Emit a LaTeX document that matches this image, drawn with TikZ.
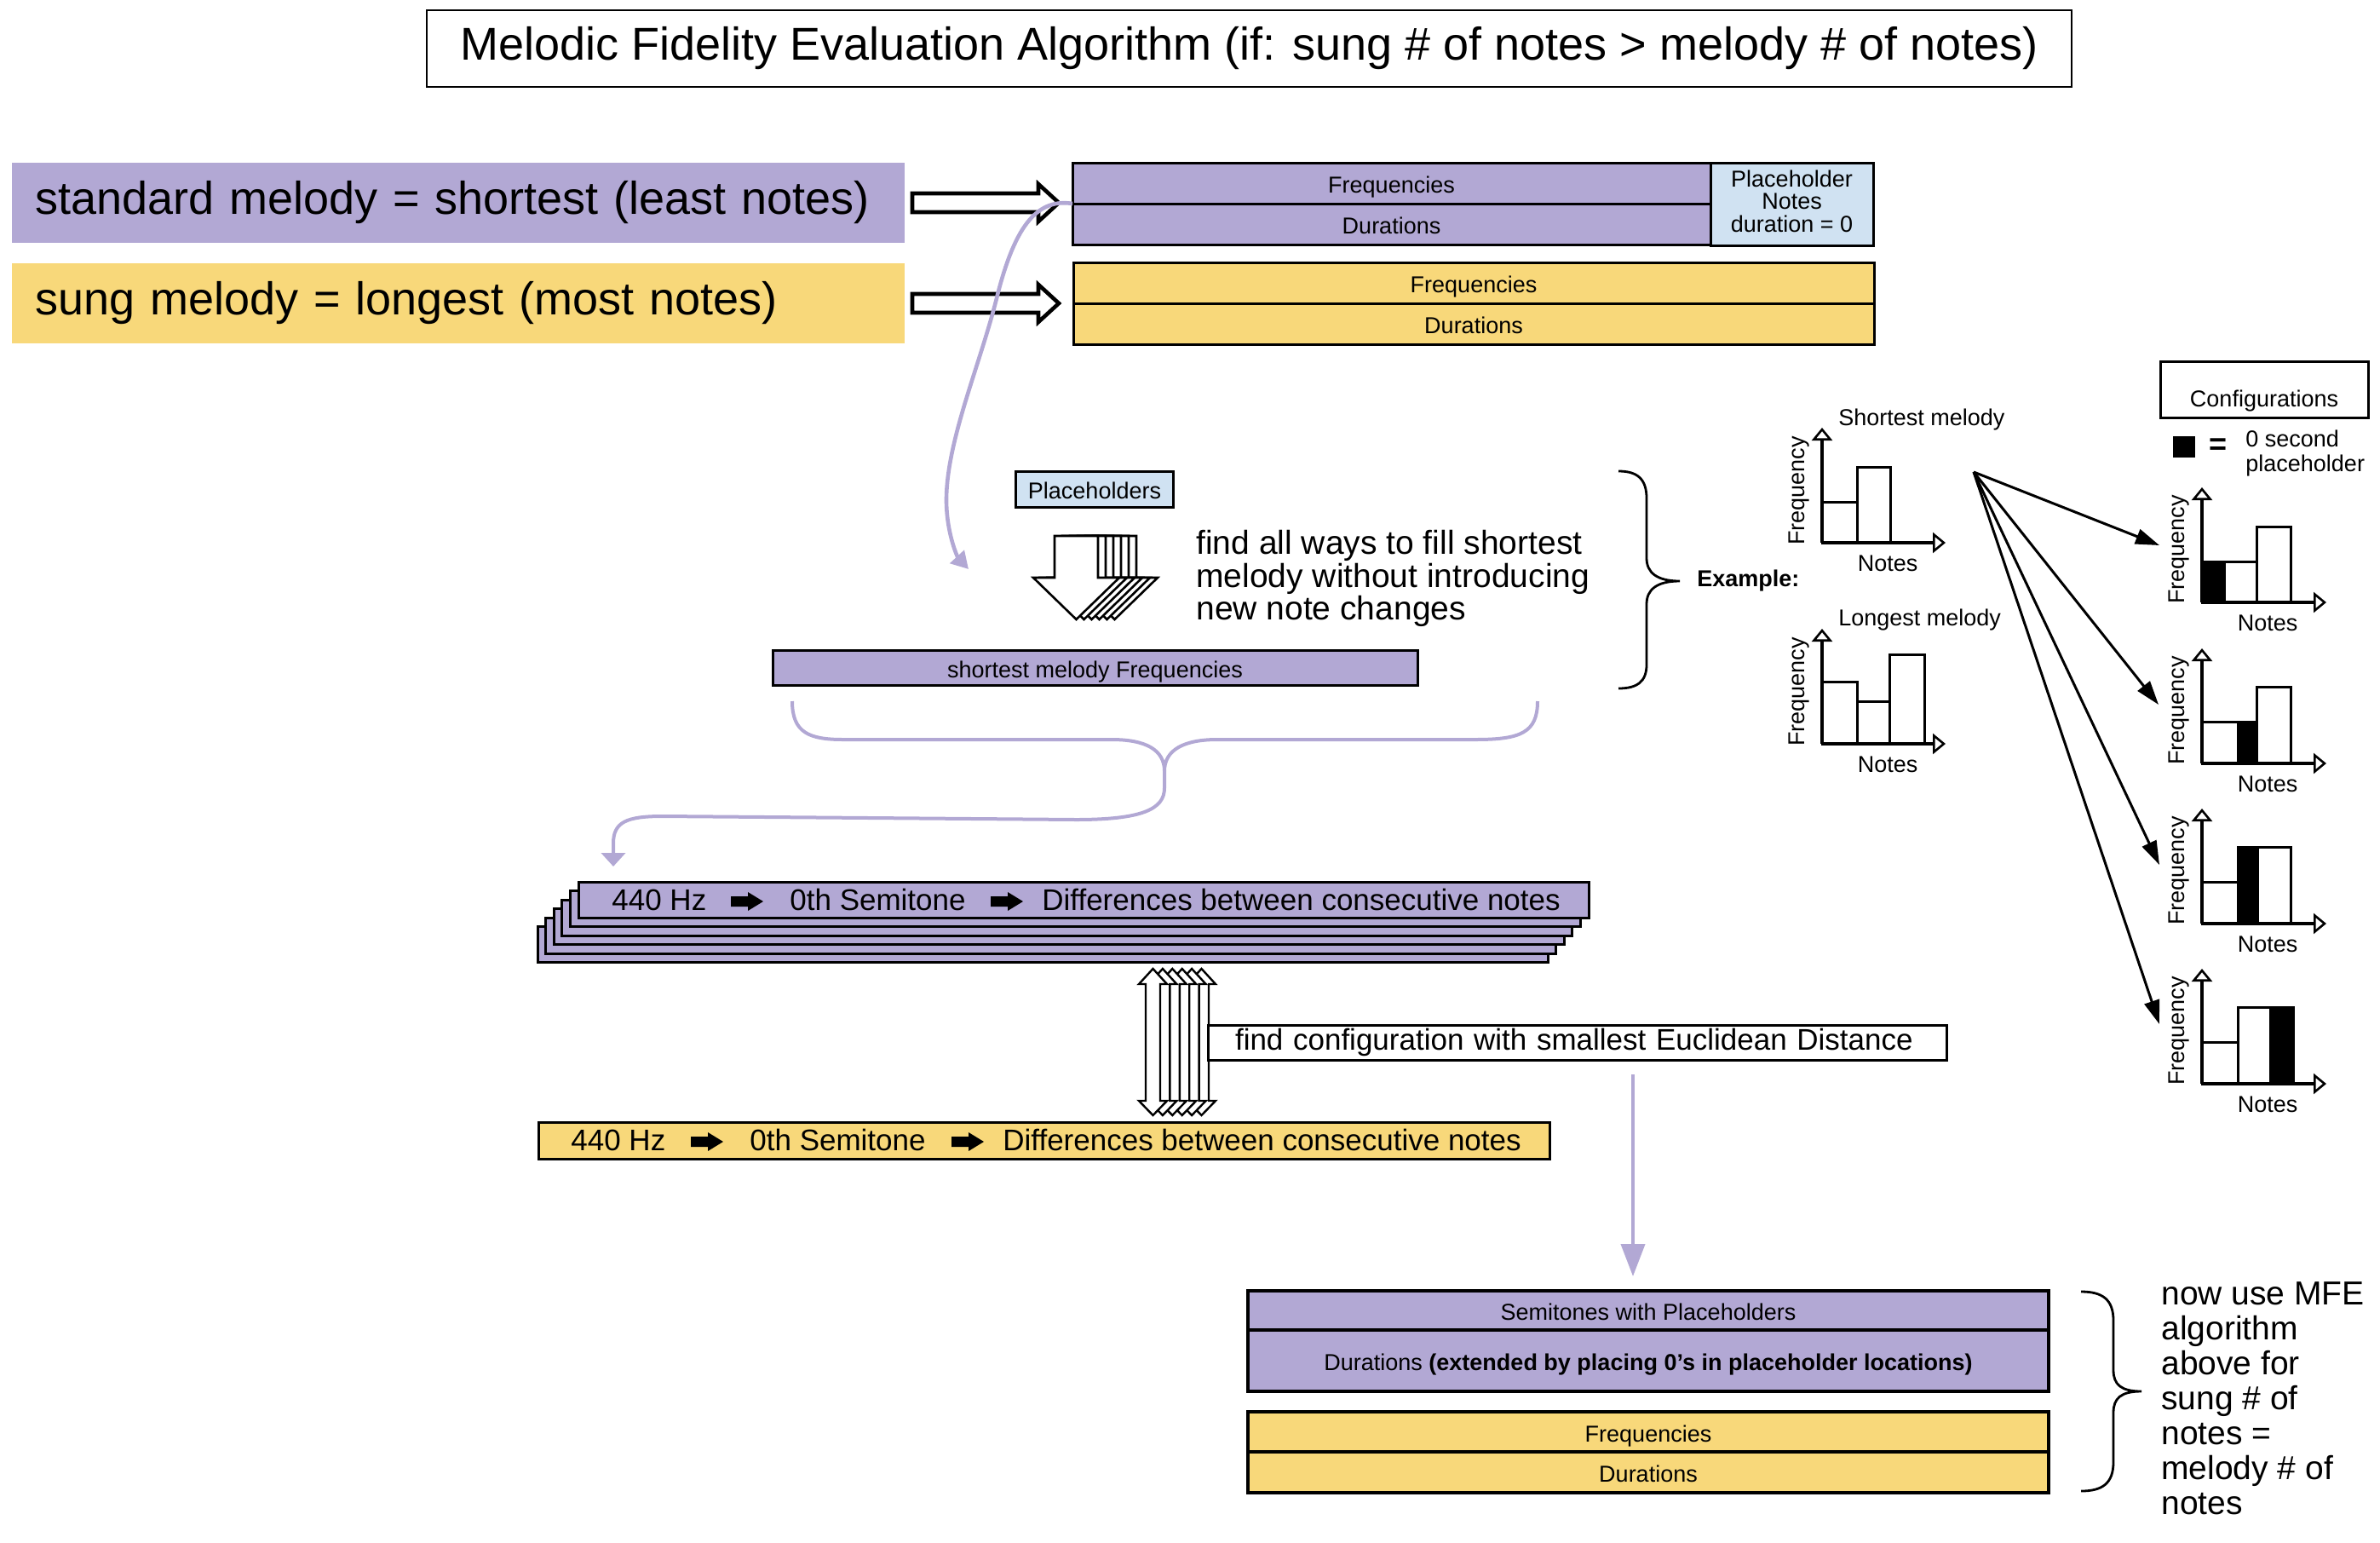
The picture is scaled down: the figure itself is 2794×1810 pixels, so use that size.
\documentclass[tikz,border=0pt]{standalone}
\usepackage{fontspec}
\setmainfont{Liberation Sans}
\usetikzlibrary{arrows.meta,calc}
\definecolor{lav}{RGB}{178,168,212}
\definecolor{ylw}{RGB}{248,216,122}
\definecolor{lblue}{RGB}{208,226,242}
\newcommand\mfeT{\fontsize{27}{32}\selectfont}
\newcommand\mfeS{\fontsize{13.5}{13.3}\selectfont}
\newcommand\mfeM{\fontsize{17.5}{20}\selectfont}
\newcommand\mfeL{\fontsize{19.5}{19.25}\selectfont}
\newcommand\mfeLL{\fontsize{19.5}{20.5}\selectfont}
\begin{document}
\begin{tikzpicture}[x=0.5pt,y=-0.5pt,
  tbl/.style={draw=black, line width=1.5pt, inner sep=0pt, outer sep=0pt, font=\mfeS, align=center},
  tblt/.style={tbl, text height=11.5pt, text depth=0pt},
  lbl/.style={inner sep=0pt, inner xsep=13.5pt, minimum height=47pt, text width=497pt, align=left, font=\mfeT},
  harrow/.style={draw=black, fill=white, line width=2.3pt, line join=miter},
  warrow/.style={draw=black, fill=white, line width=1.3pt, line join=miter},
  pline/.style={draw=lav, line width=2.3pt},
  bar/.style={draw=black, fill=white, line width=1.5pt},
  blk/.style={draw=black, fill=black, line width=1.5pt},
  axis/.style={draw=black, line width=1.8pt, -{Triangle[open,width=12pt,length=7.5pt,line width=1.3pt]}},
  freqlbl/.style={rotate=90, font=\mfeS, inner sep=0pt},
  noteslbl/.style={font=\mfeS, inner sep=0pt},
  mtxt/.style={font=\mfeM, anchor=base west, inner sep=0pt},
  brc/.style={draw=black, line width=1.4pt},
  fanarrow/.style={draw=black, line width=1.5pt, -{Triangle[length=14pt,width=9pt]}}
]
\useasboundingbox (0,0) rectangle (2794,1810);

% title
\node[tbl, line width=1.4pt, minimum width=965.5pt, minimum height=45pt, font=\mfeT] (title) at (1466.5,57)
  {Melodic Fidelity Evaluation Algorithm (if: sung \# of notes > melody \# of notes)};

% left labels
\node[lbl, fill=lav] (stdmel) at (538,238) {standard melody = shortest (least notes)};
\node[lbl, fill=ylw] (sungmel) at (538,356) {sung melody = longest (most notes)};

% hollow block arrows
\draw[harrow] (1071,238) ++(0,-11) -- ++(148,0) -- ++(0,-11) -- ++(24,22) -- ++(-24,22) -- ++(0,-11) -- ++(-148,0) -- cycle;
\draw[harrow] (1071,356) ++(0,-11) -- ++(148,0) -- ++(0,-11) -- ++(24,22) -- ++(-24,22) -- ++(0,-11) -- ++(-148,0) -- cycle;

% top tables
\node[tblt, fill=lav, minimum width=374.5pt, minimum height=24pt] (pfreq) at (1633.5,215) {Frequencies};
\node[tblt, fill=lav, minimum width=374.5pt, minimum height=24pt] (pdur) at (1633.5,263) {Durations};
\node[tbl, fill=lblue, minimum width=95.5pt, minimum height=48.5pt] (plh) at (2103.5,239.5) {};
\node[font=\mfeS, align=center, inner sep=0pt] (plhtxt) at (2103.5,236) {Placeholder\\Notes\\duration = 0};
\node[tblt, fill=ylw, minimum width=470pt, minimum height=24pt] (yfreq) at (1730,332) {Frequencies};
\node[tblt, fill=ylw, minimum width=470pt, minimum height=24pt] (ydur) at (1730,380) {Durations};

% purple curved arrow from top table
\coordinate (pcEnd) at (1137,668);
\draw[pline, -{Triangle[width=11pt,length=10pt]}] (pfreq.south west) .. controls (1215,232) and (1190,270) .. (1170,350)
  .. controls (1150,430) and (1110,520) .. (1111,590) .. controls (1112,630) and (1125,655) .. (pcEnd);

% placeholders box
\node[tblt, fill=lblue, minimum width=92.5pt, minimum height=21pt] (plhs) at (1285,574) {Placeholders};

% stacked down arrows
\foreach \k in {5,4,3,2,1,0} {
  \begin{scope}[xshift={\k*4.5pt}]
    \draw[warrow] (1238,629) -- (1289,629) -- (1289,678) -- (1314,678) -- (1263.5,727) -- (1213,678) -- (1238,678) -- cycle;
  \end{scope}
}

\node[font=\mfeL, align=left, anchor=west, inner sep=0pt] (fillways) at (1404,679)
  {find all ways to fill shortest\\melody without introducing\\new note changes};

\node[tblt, fill=lav, minimum width=378.5pt, minimum height=20.5pt] (smfreq) at (1285.5,783.5) {shortest melody Frequencies};

% example brace
\draw[brc] (1900,553) .. controls (1922,553) and (1933,562) .. (1933,585) -- (1933,655)
  .. controls (1933,672) and (1945,682) .. (1972,682) .. controls (1945,682) and (1933,692) .. (1933,709)
  -- (1933,780) .. controls (1933,800) and (1922,808) .. (1900,808);
\node[font=\mfeS\bfseries, anchor=west, inner sep=0pt] (example) at (1992,682) {Example:};

% shortest melody graph
\begin{scope}[shift={(2139,637)}]
  \draw[bar] (0,0) rectangle (41,-48);
  \draw[bar] (41,0) rectangle (80,-89);
  \draw[axis] (0,0) -- (0,-135);
  \draw[axis] (0,0) -- (145,0);
  \node[freqlbl] (sF) at (-27,-61) {Frequency};
  \node[noteslbl] (sN) at (77,24) {Notes};
  \node[font=\mfeS, anchor=west, inner sep=0pt] (sT) at (19,-144) {Shortest melody};
\end{scope}

% longest melody graph
\begin{scope}[shift={(2139,873)}]
  \draw[bar] (0,0) rectangle (41,-73);
  \draw[bar] (41,0) rectangle (79,-50);
  \draw[bar] (79,0) rectangle (120,-105);
  \draw[axis] (0,0) -- (0,-135);
  \draw[axis] (0,0) -- (145,0);
  \node[freqlbl] (lF) at (-27,-61) {Frequency};
  \node[noteslbl] (lN) at (77,24) {Notes};
  \node[font=\mfeS, anchor=west, inner sep=0pt] (lT) at (19,-145) {Longest melody};
\end{scope}

% configurations
\node[tbl, minimum width=122pt, minimum height=33pt, text height=23pt, text depth=2.8pt] (configs) at (2658,457) {Configurations};
\node[fill=black, inner sep=0pt, minimum width=13pt, minimum height=12.5pt] (legsq) at (2564,524.5) {};
\node[font=\fontsize{18}{20}\selectfont\bfseries, inner sep=0pt] (legeq) at (2604,524) {=};
\node[font=\fontsize{13.5}{14.5}\selectfont, align=left, anchor=west, inner sep=0pt] (legtxt) at (2636,532) {0 second\\placeholder};

\begin{scope}[shift={(2585,707)}]
  \draw[blk] (0,0) rectangle (26,-48);
  \draw[bar] (26,0) rectangle (64,-48);
  \draw[bar] (64,0) rectangle (104,-89);
  \draw[axis] (0,0) -- (0,-135);
  \draw[axis] (0,0) -- (146,0);
  \node[freqlbl] (g1F) at (-27,-62) {Frequency};
  \node[noteslbl] (g1N) at (77,24) {Notes};
\end{scope}
\begin{scope}[shift={(2585,896)}]
  \draw[bar] (0,0) rectangle (42,-49);
  \draw[blk] (42,0) rectangle (64,-49);
  \draw[bar] (64,0) rectangle (104,-90);
  \draw[axis] (0,0) -- (0,-135);
  \draw[axis] (0,0) -- (146,0);
  \node[freqlbl] (g2F) at (-27,-62) {Frequency};
  \node[noteslbl] (g2N) at (77,24) {Notes};
\end{scope}
\begin{scope}[shift={(2585,1084)}]
  \draw[bar] (0,0) rectangle (42,-49);
  \draw[blk] (42,0) rectangle (65,-90);
  \draw[bar] (65,0) rectangle (104,-90);
  \draw[axis] (0,0) -- (0,-135);
  \draw[axis] (0,0) -- (146,0);
  \node[freqlbl] (g3F) at (-27,-62) {Frequency};
  \node[noteslbl] (g3N) at (77,24) {Notes};
\end{scope}
\begin{scope}[shift={(2585,1272)}]
  \draw[bar] (0,0) rectangle (42,-49);
  \draw[bar] (42,0) rectangle (80,-90);
  \draw[blk] (80,0) rectangle (107,-90);
  \draw[axis] (0,0) -- (0,-135);
  \draw[axis] (0,0) -- (146,0);
  \node[freqlbl] (g4F) at (-27,-62) {Frequency};
  \node[noteslbl] (g4N) at (77,24) {Notes};
\end{scope}

% fan arrows
\coordinate (fan) at (2317,554);
\coordinate (c1) at (2535,640);
\coordinate (c2) at (2534,827);
\coordinate (c3) at (2535,1015);
\coordinate (c4) at (2535,1202);
\draw[fanarrow] (fan) -- (c1);
\draw[fanarrow] (fan) -- (c2);
\draw[fanarrow] (fan) -- (c3);
\draw[fanarrow] (fan) -- (c4);

% split purple curves
\coordinate (spL) at (930,823);
\coordinate (spR) at (1805,823);
\coordinate (spM) at (1367,905);
\coordinate (spE) at (720,1017);
\draw[pline, line width=2pt] (spL) .. controls (930,860) and (950,868) .. (990,868) -- (1305,868) .. controls (1345,868) and (1367,880) .. (spM);
\draw[pline, line width=2pt] (spR) .. controls (1805,860) and (1785,868) .. (1732,868) -- (1429,868) .. controls (1390,868) and (1367,880) .. (spM);
\draw[pline, line width=2pt, -{Triangle[width=14pt,length=8pt]}] (spM) -- (1367,925) .. controls (1367,950) and (1340,962) .. (1263,962)
  -- (778,958) .. controls (735,958) and (720,965) .. (720,990) -- (spE);

% stacked purple boxes
\foreach \k in {5,4,3,2,1} {
  \node[tbl, fill=lav, minimum width=593pt, minimum height=21pt] (stk\k) at ($(1272,1056)+({-9.6*\k},{10.5*\k})$) {};
}
\node[tbl, fill=lav, minimum width=593pt, minimum height=21pt] (stk0) at (1272,1056) {};
\node[mtxt] (phz) at (718,1068.5) {440 Hz};
\node[mtxt] (psemi) at (927,1068.5) {0th Semitone};
\node[mtxt] (pdiff) at (1223,1068.5) {Differences between consecutive notes};
\fill (858,1058) ++(0,-6) -- ++(20,0) -- ++(0,-5) -- ++(18,11) -- ++(-18,11) -- ++(0,-5) -- ++(-20,0) -- cycle;
\fill (1163,1058) ++(0,-6) -- ++(20,0) -- ++(0,-5) -- ++(18,11) -- ++(-18,11) -- ++(0,-5) -- ++(-20,0) -- cycle;

% yellow bar
\node[tbl, fill=ylw, minimum width=593.5pt, minimum height=21.5pt] (ybar) at (1225.5,1338.5) {};
\node[mtxt] (yhz) at (670,1350) {440 Hz};
\node[mtxt] (ysemi) at (880,1350) {0th Semitone};
\node[mtxt] (ydiff) at (1177,1350) {Differences between consecutive notes};
\fill (811,1340) ++(0,-6) -- ++(20,0) -- ++(0,-5) -- ++(18,11) -- ++(-18,11) -- ++(0,-5) -- ++(-20,0) -- cycle;
\fill (1117,1340) ++(0,-6) -- ++(20,0) -- ++(0,-5) -- ++(18,11) -- ++(-18,11) -- ++(0,-5) -- ++(-20,0) -- cycle;

% stacked double arrows
\foreach \k in {5,4,3,2,1,0} {
  \begin{scope}[xshift={\k*5.7pt}]
    \draw[warrow, line width=1.2pt] (1353.5,1137) -- (1370,1155) -- (1362,1155) -- (1362,1292) -- (1370,1292) -- (1353.5,1309)
      -- (1337,1292) -- (1345,1292) -- (1345,1155) -- (1337,1155) -- cycle;
  \end{scope}
}

\node[tbl, fill=white, minimum width=433.5pt, minimum height=20.5pt, font=\mfeM, text width=401.5pt, align=left, inner xsep=16pt] (fcfg) at (1851.5,1223.5)
  {find configuration with smallest Euclidean Distance};

% purple vertical arrow
\coordinate (vaS) at (1917,1261);
\coordinate (vaE) at (1917,1498);
\draw[pline, line width=2pt, -{Triangle[width=14pt,length=19pt]}] (vaS) -- (vaE);

% bottom tables
\node[tblt, line width=1.7pt, fill=lav, minimum width=470pt, minimum height=23pt] (semi) at (1935,1538) {Semitones with Placeholders};
\node[tblt, line width=1.7pt, fill=lav, minimum width=470pt, minimum height=36pt] (durx) at (1935,1597)
  {Durations \textbf{(extended by placing 0’s in placeholder locations)}};
\node[tblt, line width=1.7pt, fill=ylw, minimum width=470pt, minimum height=23.5pt] (yfreq2) at (1935,1680.5) {Frequencies};
\node[tblt, line width=1.7pt, fill=ylw, minimum width=470pt, minimum height=24pt] (ydur2) at (1935,1728) {Durations};

% bottom brace
\draw[brc] (2443,1516) .. controls (2468,1516) and (2481,1525) .. (2481,1550) -- (2481,1608)
  .. controls (2481,1625) and (2490,1633) .. (2514,1633) .. controls (2490,1633) and (2481,1641) .. (2481,1658)
  -- (2481,1716) .. controls (2481,1741) and (2468,1750) .. (2443,1750);
\node[font=\mfeLL, align=left, anchor=west, inner sep=0pt] (nowuse) at (2537,1641)
  {now use MFE\\algorithm\\above for\\sung \# of\\notes =\\melody \# of\\notes};
\end{tikzpicture}
\end{document}
